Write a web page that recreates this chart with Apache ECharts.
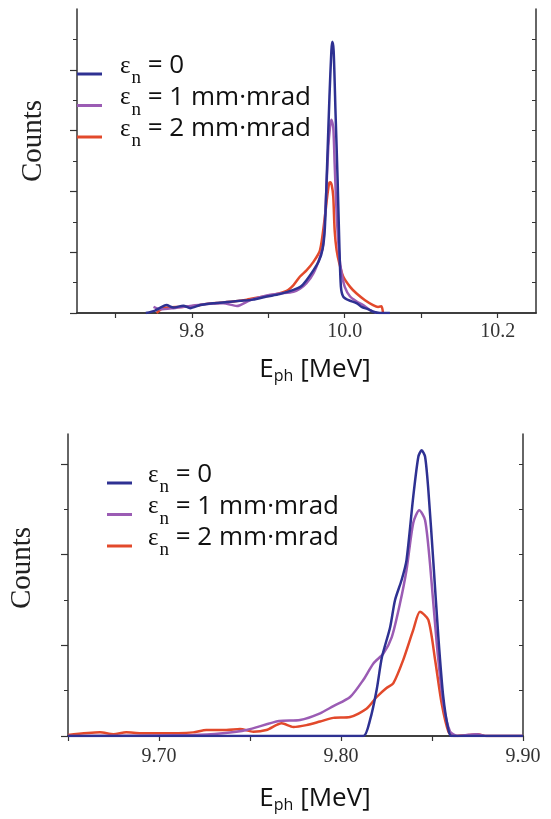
<!DOCTYPE html>
<html><head><meta charset="utf-8">
<script src="https://cdn.jsdelivr.net/npm/echarts@6/dist/echarts.min.js"></script>
<style>html,body{margin:0;padding:0;background:#fff}#c{width:551px;height:819px}</style>
</head><body><div id="c"></div>
<script>
// ---------- data ----------
const seriesNames = ['εn = 0', 'εn = 1 mm·mrad', 'εn = 2 mm·mrad'];
const legendRest = ['0', '1 mm·mrad', '2 mm·mrad'];
const colors = ['#2e3192', '#9b5cb4', '#e2492b'];

// top panel
const topTickValues = [9.7, 9.8, 9.9, 10.0, 10.1, 10.2];
const topLabelValues = [9.8, 10.0, 10.2];
const topYMajor = [0, 1, 2, 3, 4];
const topYMinor = [0.5, 1.5, 2.5, 3.5, 4.5];
const topYRight = [0.5, 1, 1.5, 2, 2.5, 3, 3.5, 4, 4.5];

const topBlueX = [9.740, 9.752, 9.759, 9.767, 9.776, 9.789, 9.798, 9.811, 9.828, 9.846, 9.863, 9.880, 9.898, 9.915, 9.933, 9.942, 9.950, 9.959, 9.966, 9.971, 9.974, 9.977, 9.980, 9.9825, 9.9837, 9.9855, 9.988, 9.9907, 9.993, 9.995, 9.998, 10.005, 10.016, 10.022, 10.031, 10.037, 10.046, 10.059];
const topBlueY = [0, 0.04, 0.09, 0.13, 0.09, 0.12, 0.08, 0.13, 0.16, 0.18, 0.20, 0.22, 0.27, 0.31, 0.38, 0.43, 0.54, 0.70, 0.85, 1.05, 1.40, 2.45, 3.55, 4.31, 4.46, 4.31, 3.27, 2.18, 1.09, 0.43, 0.27, 0.21, 0.16, 0.10, 0.06, 0.02, 0, 0];

const topPurpleX = [9.750, 9.759, 9.776, 9.798, 9.8195, 9.841, 9.859, 9.876, 9.898, 9.915, 9.933, 9.9415, 9.950, 9.959, 9.9676, 9.972, 9.9755, 9.9785, 9.9807, 9.9825, 9.985, 9.9868, 9.9894, 9.993, 9.996, 10.000, 10.007, 10.0155, 10.024, 10.033, 10.042];
const topPurpleY = [0.10, 0.06, 0.08, 0.115, 0.15, 0.16, 0.115, 0.21, 0.29, 0.32, 0.35, 0.40, 0.49, 0.65, 0.92, 1.14, 1.91, 2.73, 3.05, 3.18, 3.05, 2.45, 1.63, 0.92, 0.65, 0.43, 0.27, 0.19, 0.13, 0.05, 0];

const topRedX = [9.754, 9.763, 9.785, 9.802, 9.8195, 9.837, 9.854, 9.872, 9.889, 9.907, 9.924, 9.933, 9.9415, 9.950, 9.959, 9.9676, 9.974, 9.977, 9.9795, 9.981, 9.983, 9.985, 9.9868, 9.9894, 9.993, 9.998, 10.007, 10.0155, 10.0265, 10.037, 10.0436, 10.048, 10.050];
const topRedY = [0, 0.08, 0.10, 0.115, 0.15, 0.17, 0.19, 0.22, 0.26, 0.30, 0.365, 0.46, 0.60, 0.70, 0.84, 1.03, 1.58, 1.91, 2.13, 2.15, 2.10, 1.91, 1.36, 1.03, 0.81, 0.60, 0.43, 0.32, 0.21, 0.13, 0.10, 0.11, 0];

// bottom panel
const botTickValues = [9.65, 9.70, 9.75, 9.80, 9.85, 9.90];
const botLabelValues = [9.70, 9.80, 9.90];
const botYMajor = [0, 1, 2, 3];
const botYMinor = [0.5, 1.5, 2.5];
const botYRight = [0.5, 1, 1.5, 2, 2.5, 3];

const botBlueX = [9.65, 9.80, 9.8123, 9.816, 9.8196, 9.8225, 9.827, 9.8297, 9.8333, 9.836, 9.8397, 9.8425, 9.8443, 9.8462, 9.848, 9.8508, 9.8535, 9.8562, 9.859, 9.8608, 9.90];
const botBlueY = [0, 0, 0, 0.18, 0.51, 0.87, 1.20, 1.50, 1.72, 1.94, 2.64, 3.08, 3.15, 3.08, 2.71, 1.90, 1.09, 0.43, 0.07, 0, 0];

const botPurpleX = [9.65, 9.719, 9.735, 9.748, 9.766, 9.7775, 9.7885, 9.7958, 9.805, 9.8123, 9.8178, 9.8233, 9.8279, 9.8324, 9.836, 9.8397, 9.843, 9.8462, 9.8489, 9.8526, 9.8562, 9.8599, 9.864, 9.8745, 9.880, 9.90];
const botPurpleY = [0, 0.01, 0.03, 0.066, 0.165, 0.176, 0.25, 0.33, 0.43, 0.62, 0.80, 0.91, 1.09, 1.46, 1.83, 2.35, 2.49, 2.38, 1.90, 1.02, 0.36, 0.05, 0, 0.02, 0, 0];

const botRedX = [9.65, 9.6676, 9.675, 9.682, 9.690, 9.7005, 9.7188, 9.726, 9.737, 9.7445, 9.7518, 9.759, 9.7674, 9.7738, 9.781, 9.7885, 9.7958, 9.805, 9.814, 9.8196, 9.825, 9.8287, 9.8342, 9.8397, 9.8434, 9.848, 9.8517, 9.8553, 9.859, 9.862, 9.870, 9.875, 9.880, 9.90];
const botRedY = [0.01, 0.04, 0.02, 0.04, 0.03, 0.03, 0.04, 0.066, 0.066, 0.077, 0.047, 0.066, 0.14, 0.10, 0.12, 0.16, 0.20, 0.21, 0.30, 0.43, 0.53, 0.58, 0.84, 1.17, 1.37, 1.28, 0.84, 0.36, 0.05, 0, 0.01, 0.02, 0, 0];

// ---------- chart ----------
const SERIF = 'Liberation Serif';
const SANS = 'Open Sans';
const AX = '#333';
const zip = (xs, ys) => xs.map((x, i) => [x, ys[i]]);

function legendRich(padLeft) {
  return {
    e: { fontFamily: SERIF, fontSize: 25, lineHeight: 30, color: '#111', padding: [0, 0, 16, padLeft] },
    s: { fontFamily: SERIF, fontSize: 19, lineHeight: 30, color: '#111', padding: [9, 0, 0, 1] },
    t: { fontFamily: SANS, fontSize: 26, lineHeight: 30, color: '#111', padding: [0, 0, 16, 0] }
  };
}
const legendFmt = name => {
  const i = seriesNames.indexOf(name);
  return '{e|ε}{s|n}{t| = ' + legendRest[i] + '}';
};

function xAxes(gridIndex, min, max, ticks, labels, decimals, namePad, nameGap, labelMargin) {
  return [{
    type: 'value', gridIndex, position: 'bottom', min, max,
    axisLine: { show: true, lineStyle: { color: AX, width: 1.5 } },
    axisTick: { show: true, inside: false, length: 5, customValues: ticks, lineStyle: { color: AX, width: 1.2 } },
    axisLabel: { show: true, customValues: labels, margin: labelMargin, fontFamily: SERIF, fontSize: 20, color: '#333',
      formatter: v => v.toFixed(decimals) },
    splitLine: { show: false },
    name: '{a|E}{b|ph}{a| [MeV]}', nameLocation: 'middle', nameGap,
    nameTextStyle: { padding: [0, 0, 0, namePad], rich: {
      a: { fontFamily: SANS, fontSize: 26, lineHeight: 30, color: '#111' },
      b: { fontFamily: SANS, fontSize: 16, lineHeight: 30, color: '#111', padding: [13, 0, 0, 0] }
    } }
  }, {
    type: 'value', gridIndex, position: 'top', min, max,
    axisLine: { show: true, lineStyle: { color: AX, width: 1.5 } },
    axisTick: { show: true, inside: true, length: 4, customValues: ticks, lineStyle: { color: AX, width: 1 } },
    axisLabel: { show: false }, splitLine: { show: false }
  }];
}
function yAxes(gridIndex, max, major, minor, right, namePad, nameGap) {
  return [{
    type: 'value', gridIndex, position: 'left', min: 0, max,
    axisLine: { show: true, lineStyle: { color: AX, width: 1.5 } },
    axisTick: { show: true, inside: false, length: 7, customValues: major, lineStyle: { color: AX, width: 1.2 } },
    axisLabel: { show: false }, splitLine: { show: false },
    name: 'Counts', nameLocation: 'middle', nameGap,
    nameTextStyle: { fontFamily: SERIF, fontSize: 29, color: '#222', padding: [0, 0, 0, namePad] }
  }, {
    type: 'value', gridIndex, position: 'left', min: 0, max,
    axisLine: { show: false },
    axisTick: { show: true, inside: false, length: 4, customValues: minor, lineStyle: { color: AX, width: 1 } },
    axisLabel: { show: false }, splitLine: { show: false }
  }, {
    type: 'value', gridIndex, position: 'right', min: 0, max,
    axisLine: { show: true, lineStyle: { color: AX, width: 1.5 } },
    axisTick: { show: true, inside: true, length: 4, customValues: right, lineStyle: { color: AX, width: 1 } },
    axisLabel: { show: false }, splitLine: { show: false }
  }];
}

const topData = [zip(topBlueX, topBlueY), zip(topPurpleX, topPurpleY), zip(topRedX, topRedY)];
const botData = [zip(botBlueX, botBlueY), zip(botPurpleX, botPurpleY), zip(botRedX, botRedY)];

const series = [];
// draw order: red, purple, blue on top
[2, 1, 0].forEach(i => {
  series.push({ name: seriesNames[i], type: 'line', xAxisIndex: 0, yAxisIndex: 0, data: topData[i],
    showSymbol: false, smooth: 0.25, color: colors[i], lineStyle: { color: colors[i], width: 2.5 }, silent: true, z: 3 - i });
  series.push({ name: seriesNames[i], type: 'line', xAxisIndex: 2, yAxisIndex: 3, data: botData[i],
    showSymbol: false, smooth: 0.25, color: colors[i], lineStyle: { color: colors[i], width: 2.5 }, silent: true, z: 3 - i });
});

const option = {
  animation: false,
  backgroundColor: '#fff',
  grid: [
    { left: 77, top: 9, width: 459, height: 304 },
    { left: 68, top: 434, width: 455, height: 302 }
  ],
  xAxis: [
    ...xAxes(0, 9.65, 10.25, topTickValues, topLabelValues, 1, 17, 42, 9),
    ...xAxes(1, 9.65, 9.90, botTickValues, botLabelValues, 2, 39, 48, 11)
  ],
  yAxis: [
    ...yAxes(0, 5, topYMajor, topYMinor, topYRight, 40, 29),
    ...yAxes(1, 3.33, botYMajor, botYMinor, botYRight, 34, 31)
  ],
  legend: [
    { left: 77, top: 53, orient: 'vertical', padding: 0, itemGap: -10.5, itemWidth: 25, itemHeight: 3, icon: 'rect',
      selectedMode: false, data: seriesNames, formatter: legendFmt, textStyle: { rich: legendRich(13) } },
    { left: 107, top: 462, orient: 'vertical', padding: 0, itemGap: -10.5, itemWidth: 25, itemHeight: 3, icon: 'rect',
      selectedMode: false, data: seriesNames, formatter: legendFmt, textStyle: { rich: legendRich(11) } }
  ],
  series
};
const chart = echarts.init(document.getElementById('c'), null, { renderer: 'canvas' });
chart.setOption(option);
</script>
</body></html>
